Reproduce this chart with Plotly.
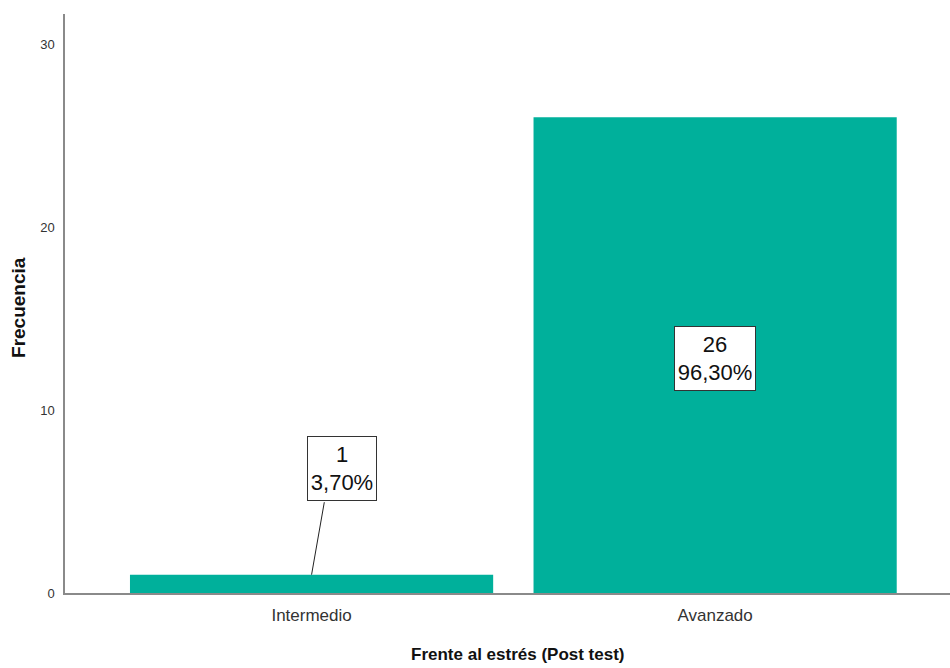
import plotly.graph_objects as go

categories = ["Intermedio", "Avanzado"]
frequencies = [1, 26]
percent_labels = ["3,70%", "96,30%"]
y_ticks = [0, 10, 20, 30]
x_title = "Frente al estrés (Post test)"
y_title = "Frecuencia"

BAR_COLOR = "rgb(0,176,155)"
FONT = "Liberation Sans, Arial, sans-serif"

fig = go.Figure()
fig.add_trace(go.Bar(
    x=categories, y=frequencies,
    marker=dict(color=BAR_COLOR, line=dict(width=0)),
    width=0.9, hoverinfo="skip",
))

# leader line for small bar label
fig.add_annotation(
    x=categories[0], y=frequencies[0], xref="x", yref="y",
    text="", showarrow=True, arrowhead=0, arrowwidth=1, arrowcolor="#222",
    ax=13, ay=-74, standoff=0, startstandoff=0,
)
# label box for small bar
fig.add_annotation(
    x=categories[0], y=frequencies[0], xref="x", yref="y",
    text=f"{frequencies[0]}<br>{percent_labels[0]}",
    showarrow=False, xshift=30, yshift=106,
    font=dict(family=FONT, size=22, color="#111"),
    bgcolor="white", bordercolor="#333", borderwidth=1, borderpad=2,
    width=64, height=59, align="center", valign="middle",
)
# label inside large bar
fig.add_annotation(
    x=categories[1], y=frequencies[1] / 2, xref="x", yref="y",
    text=f"{frequencies[1]}<br>{percent_labels[1]}",
    showarrow=False, yshift=-3,
    font=dict(family=FONT, size=22, color="#111"),
    bgcolor="white", bordercolor="#333", borderwidth=1, borderpad=2,
    width=76, height=59, align="center", valign="middle",
)

# axis titles
fig.add_annotation(
    x=0.512, y=-0.107, xref="paper", yref="paper",
    text=f"<b>{x_title}</b>", showarrow=False,
    xanchor="center", yanchor="middle",
    font=dict(family=FONT, size=17, color="#111"),
)
fig.add_annotation(
    x=-0.052, y=0.494, xref="paper", yref="paper",
    text=f"<b>{y_title}</b>", showarrow=False, textangle=-90,
    xanchor="center", yanchor="middle",
    font=dict(family=FONT, size=19, color="#111"),
)

fig.update_layout(
    width=950, height=668,
    margin=dict(l=65, r=0, t=14, b=75, autoexpand=False),
    plot_bgcolor="white", paper_bgcolor="white",
    showlegend=False, bargap=0.1,
    font=dict(family=FONT, color="#222"),
    xaxis=dict(
        type="category", range=[-0.611, 1.582], automargin=False,
        showline=True, linecolor="#8a8a8a", linewidth=1.5,
        showgrid=False, zeroline=False, ticks="",
        tickfont=dict(size=17, color="#333"),
        ticklabelstandoff=6,
    ),
    yaxis=dict(
        range=[0, 31.64], tickvals=y_ticks, automargin=False,
        showline=True, linecolor="#8a8a8a", linewidth=1.5,
        showgrid=False, zeroline=False, ticks="",
        tickfont=dict(size=13, color="#333"),
        ticklabelstandoff=6,
    ),
)

fig.write_html(
    "out.html",
    config={"displayModeBar": False},
    post_script="document.body.style.margin='0';document.body.style.overflow='hidden';",
)
